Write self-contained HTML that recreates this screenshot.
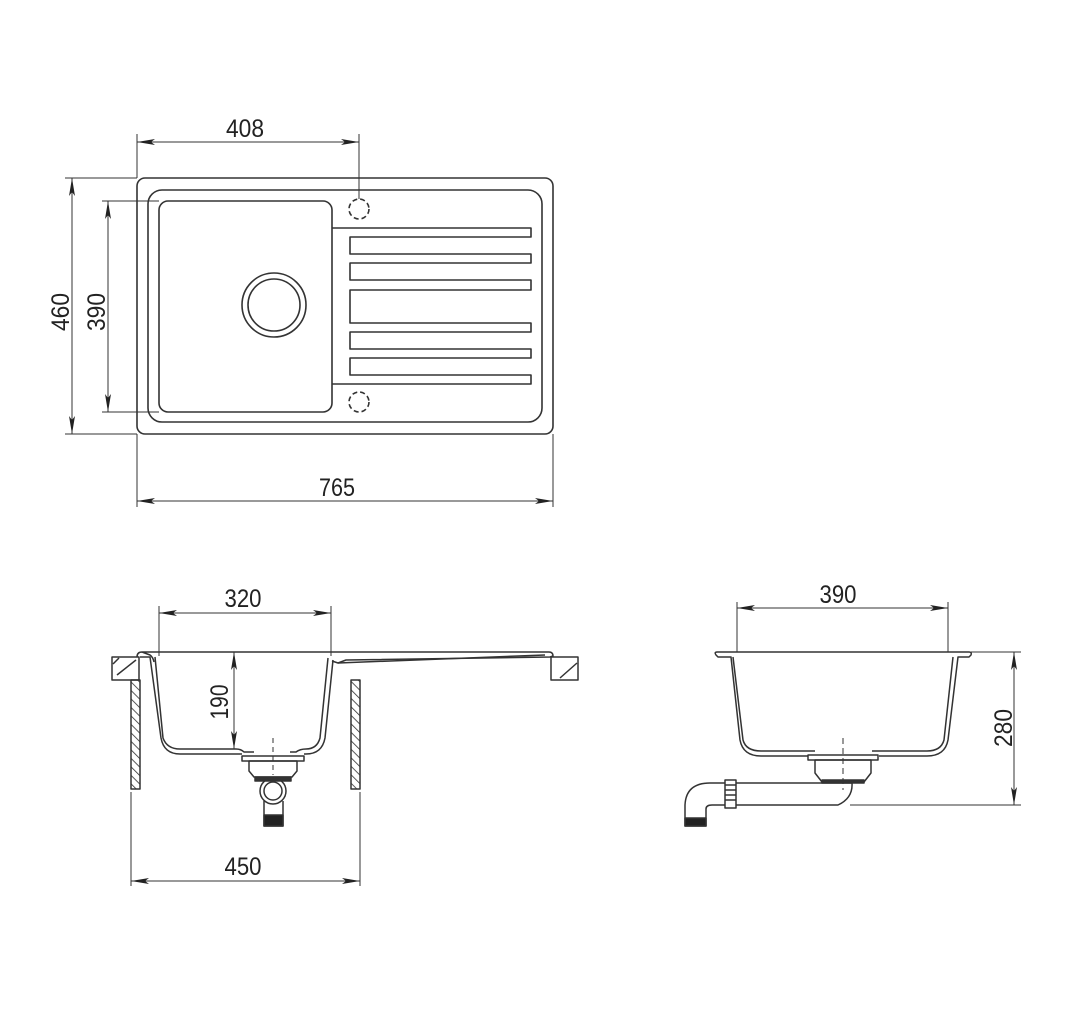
<!DOCTYPE html>
<html><head><meta charset="utf-8"><style>
html,body{margin:0;padding:0;background:#fff;}
svg{display:block;}
text{font-family:"Liberation Sans",sans-serif;font-size:25px;fill:#222;}
</style></head><body>
<svg width="1069" height="1024" viewBox="0 0 1069 1024" xmlns="http://www.w3.org/2000/svg">
<defs>
<marker id="a" viewBox="0 0 18 6" refX="18" refY="3" markerWidth="18" markerHeight="6" markerUnits="userSpaceOnUse" orient="auto-start-reverse">
<path d="M0,0 L18,3 L0,6 L4,3 Z" fill="#222"/>
</marker>
<pattern id="h" width="6" height="6" patternUnits="userSpaceOnUse" patternTransform="rotate(-45)">
<line x1="0" y1="0" x2="0" y2="6" stroke="#333" stroke-width="1.6"/>
</pattern>
</defs>
<g fill="none" stroke="#333" stroke-width="1.6">
<rect x="137" y="178" width="416" height="256" rx="8"/>
<rect x="148" y="190" width="394" height="232" rx="14"/>
<rect x="159" y="201" width="173" height="211" rx="9"/>
<circle cx="274" cy="305" r="32"/>
<circle cx="274" cy="305" r="26"/>
<circle cx="359" cy="209" r="10" stroke-dasharray="5 3"/>
<circle cx="359" cy="402" r="10" stroke-dasharray="5 3"/>
<path d="M332,228 H531 V237 H350 V254 H531 V263 H350 V280 H531 V290 H350 V323 H531 V332 H350 V349 H531 V358 H350 V375 H531 V384 H332" stroke-linejoin="round"/>
</g>
<g fill="none" stroke="#333" stroke-width="1">
<line x1="137" y1="134" x2="137" y2="178"/>
<line x1="359" y1="134" x2="359" y2="199"/>
<line x1="137" y1="142" x2="359" y2="142" marker-start="url(#a)" marker-end="url(#a)"/>
<line x1="65" y1="178" x2="137" y2="178"/>
<line x1="65" y1="434" x2="137" y2="434"/>
<line x1="72" y1="178" x2="72" y2="434" marker-start="url(#a)" marker-end="url(#a)"/>
<line x1="102" y1="201" x2="159" y2="201"/>
<line x1="102" y1="412" x2="159" y2="412"/>
<line x1="108" y1="201" x2="108" y2="412" marker-start="url(#a)" marker-end="url(#a)"/>
<line x1="137" y1="434" x2="137" y2="507"/>
<line x1="553" y1="434" x2="553" y2="507"/>
<line x1="137" y1="501" x2="553" y2="501" marker-start="url(#a)" marker-end="url(#a)"/>
<line x1="159" y1="606" x2="159" y2="656"/>
<line x1="331" y1="606" x2="331" y2="656"/>
<line x1="159" y1="613" x2="331" y2="613" marker-start="url(#a)" marker-end="url(#a)"/>
<line x1="234" y1="652" x2="234" y2="749" marker-start="url(#a)" marker-end="url(#a)"/>
<line x1="131" y1="792" x2="131" y2="886"/>
<line x1="360" y1="792" x2="360" y2="886"/>
<line x1="131" y1="881" x2="360" y2="881" marker-start="url(#a)" marker-end="url(#a)"/>
<line x1="737" y1="602" x2="737" y2="652"/>
<line x1="948" y1="602" x2="948" y2="652"/>
<line x1="737" y1="608" x2="948" y2="608" marker-start="url(#a)" marker-end="url(#a)"/>
<line x1="971" y1="652" x2="1021" y2="652"/>
<line x1="850" y1="805" x2="1021" y2="805"/>
<line x1="1014" y1="652" x2="1014" y2="805" marker-start="url(#a)" marker-end="url(#a)"/>
<line x1="273" y1="738" x2="273" y2="775" stroke-dasharray="5 4"/>
<line x1="843" y1="738" x2="843" y2="790" stroke-dasharray="6 4"/>
</g>
<g fill="none" stroke="#333" stroke-width="1.5" stroke-linejoin="round">
<rect x="112" y="657" width="27" height="23"/>
<line x1="117" y1="675" x2="136" y2="660"/>
<line x1="113" y1="664" x2="119" y2="658"/>
<rect x="551" y="657" width="27" height="23"/>
<line x1="560" y1="678" x2="577" y2="663"/>
<rect x="131" y="680" width="9" height="109" fill="url(#h)"/>
<rect x="351" y="680" width="9" height="109" fill="url(#h)"/>
<path d="M137,657 Q137,652 142,652 H549 Q553,652 553,656 L550,657 L346,660 L338,663 L332,661 M142,652 L150,655 Q153,657 154,662"/>
<path d="M140,657 H150 L161,738 Q164,754 180,754 H242"/>
<path d="M155,657 L163,738 Q167,749 180,749 H236 Q241,749 244,752 H254"/>
<path d="M333,660 L325,738 Q322,754 306,754 H304"/>
<path d="M328,658 L320,738 Q317,749 306,749 Q300,749 296,752 H290"/>
<path d="M338,663 L545,655"/>
<path d="M242,756 H304 V761 H242 Z"/>
<path d="M249,761 H297 V771 L292,777 H254 L249,771 Z"/>
<rect x="255" y="777" width="36" height="4" fill="#333"/>
<circle cx="273" cy="791" r="13"/>
<circle cx="273" cy="791" r="9"/>
<path d="M264,801 V826 H283 V801"/>
<rect x="264" y="815" width="19" height="11" fill="#222"/>
</g>
<g fill="none" stroke="#333" stroke-width="1.5" stroke-linejoin="round">
<path d="M717,652 H969 Q972,652 971,655 L969,657 H958 L948,740 Q945,756 927,756 H879 M717,652 Q714,652 716,655 L718,657 H731 L740,740 Q743,756 761,756 H808"/>
<path d="M733,657 L743,740 Q746,751 761,751 H815 M953,657 L944,740 Q941,751 927,751 H872"/>
<path d="M808,755 H878 V760 H808 Z"/>
<path d="M815,760 H871 V773 L864,782 H822 L815,773 Z"/>
<rect x="822" y="780" width="42" height="3" fill="#333"/>
<path d="M736,783 H852 Q853,798 838,805 H736"/>
<path d="M725,783 H710 Q686,783 685,805 V826 H706 V809 Q706,805 712,805 H725"/>
<rect x="725" y="780" width="11" height="28"/>
<path d="M725,785 H736 M725,790 H736 M725,795 H736 M725,800 H736"/>
<rect x="685" y="818" width="21" height="8" fill="#222"/>
</g>
<text x="245" y="137" text-anchor="middle" textLength="38" lengthAdjust="spacingAndGlyphs">408</text>
<text x="337" y="496" text-anchor="middle" textLength="36" lengthAdjust="spacingAndGlyphs">765</text>
<text transform="translate(69,312) rotate(-90)" text-anchor="middle" textLength="38" lengthAdjust="spacingAndGlyphs">460</text>
<text transform="translate(105,312) rotate(-90)" text-anchor="middle" textLength="38" lengthAdjust="spacingAndGlyphs">390</text>
<text x="243" y="607" text-anchor="middle" textLength="37" lengthAdjust="spacingAndGlyphs">320</text>
<text transform="translate(228,702) rotate(-90)" text-anchor="middle" textLength="35" lengthAdjust="spacingAndGlyphs">190</text>
<text x="243" y="875" text-anchor="middle" textLength="37" lengthAdjust="spacingAndGlyphs">450</text>
<text x="838" y="603" text-anchor="middle" textLength="37" lengthAdjust="spacingAndGlyphs">390</text>
<text transform="translate(1012,728) rotate(-90)" text-anchor="middle" textLength="38" lengthAdjust="spacingAndGlyphs">280</text>
</svg>
</body></html>
